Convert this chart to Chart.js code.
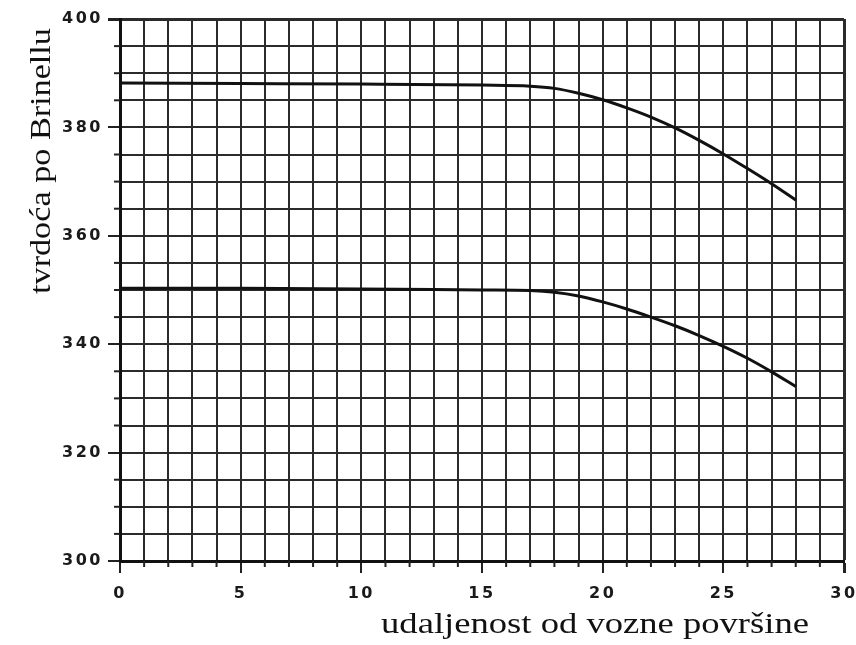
<!DOCTYPE html>
<html>
<head>
<meta charset="utf-8">
<script src="https://cdn.jsdelivr.net/npm/chart.js@4.4.1/dist/chart.umd.min.js"></script>
<style>
  html, body { margin: 0; padding: 0; background: #fff; }
  #wrap { width: 856px; height: 645px; position: relative; }
</style>
</head>
<body>
<div id="wrap"><canvas id="c" width="856" height="645"></canvas></div>
<script>
// distance from the running surface
const distance = [0, 5, 10, 15, 17, 18, 19, 20, 21, 22, 23, 24, 25, 26, 27, 28];
// upper curve (Brinell hardness)
const upperHardness = [388.2, 388.1, 388.0, 387.8, 387.6, 387.2, 386.3, 385.1, 383.6, 381.9, 379.9, 377.6, 375.1, 372.4, 369.6, 366.6];
// lower curve (Brinell hardness)
const lowerHardness = [350.3, 350.3, 350.2, 350.0, 349.9, 349.6, 348.9, 347.8, 346.5, 345.0, 343.4, 341.6, 339.6, 337.4, 334.9, 332.2];

const xTickLabels = [0, 5, 10, 15, 20, 25, 30];
const yTickLabels = [300, 320, 340, 360, 380, 400];

const xTitle = 'udaljenost od vozne površine';
const yTitle = 'tvrdoća po Brinellu';

function toPoints(xs, ys) { return xs.map((x, i) => ({ x: x, y: ys[i] })); }

const decor = {
  id: 'decor',
  beforeDraw(chart) { chart.ctx.letterSpacing = '2.5px'; },
  afterDatasetsDraw(chart) { chart.ctx.letterSpacing = '0px'; },
  afterDraw(chart) {
    const ctx = chart.ctx;
    const xs = chart.scales.x, ys = chart.scales.y;
    const area = chart.chartArea;
    ctx.save();
    ctx.letterSpacing = '0px';
    ctx.strokeStyle = '#222';
    ctx.lineWidth = 2;
    // minor ticks outside the plot
    for (let v = 0; v <= 30; v++) {
      if (xTickLabels.includes(v)) continue;
      const px = xs.getPixelForValue(v);
      ctx.beginPath(); ctx.moveTo(px, area.bottom); ctx.lineTo(px, area.bottom + 6); ctx.stroke();
    }
    for (let v = 300; v <= 400; v += 5) {
      if (yTickLabels.includes(v)) continue;
      const py = ys.getPixelForValue(v);
      ctx.beginPath(); ctx.moveTo(area.left, py); ctx.lineTo(area.left - 6, py); ctx.stroke();
    }
    // axis titles
    ctx.fillStyle = '#111';
    ctx.font = '30px "Liberation Serif"';
    ctx.textAlign = 'center';
    ctx.textBaseline = 'alphabetic';
    ctx.save();
    ctx.translate(595, 633);
    ctx.scale(1.22, 1);
    ctx.fillText(xTitle, 0, 0);
    ctx.restore();
    ctx.save();
    ctx.translate(50, 161);
    ctx.rotate(-Math.PI / 2);
    ctx.scale(1.14, 1);
    ctx.fillText(yTitle, 0, 0);
    ctx.restore();
    ctx.restore();
  }
};

const tickFont = { family: '"DejaVu Sans", sans-serif', size: 16, weight: 'bold' };

new Chart(document.getElementById('c'), {
  type: 'line',
  data: {
    datasets: [
      {
        data: toPoints(distance, upperHardness),
        borderColor: '#111', borderWidth: 3, pointRadius: 0,
        cubicInterpolationMode: 'monotone', fill: false
      },
      {
        data: toPoints(distance, lowerHardness),
        borderColor: '#111', borderWidth: 3, pointRadius: 0,
        cubicInterpolationMode: 'monotone', fill: false
      }
    ]
  },
  options: {
    responsive: false,
    animation: false,
    devicePixelRatio: 1,
    layout: { padding: { left: 0, right: 12, top: 19, bottom: 0 } },
    plugins: { legend: { display: false }, tooltip: { enabled: false } },
    scales: {
      x: {
        type: 'linear', min: 0, max: 30,
        ticks: {
          stepSize: 1, autoSkip: false, maxRotation: 0, padding: 11,
          color: '#1a1a1a', font: tickFont,
          callback: v => xTickLabels.includes(v) ? String(v) : ''
        },
        grid: {
          color: '#2b2b2b',
          lineWidth: c => (c.tick && c.tick.value === 30) ? 3 : 2,
          tickLength: 12,
          tickColor: c => (c.tick && xTickLabels.includes(c.tick.value)) ? '#222' : 'rgba(0,0,0,0)'
        },
        border: { display: true, color: '#111', width: 3 },
        afterFit(s) { s.height = 84; s.paddingLeft = 0; s.paddingRight = 0; }
      },
      y: {
        type: 'linear', min: 300, max: 400,
        ticks: {
          stepSize: 5, autoSkip: false, padding: 5,
          color: '#1a1a1a', font: tickFont,
          callback: v => yTickLabels.includes(v) ? String(v) : ''
        },
        grid: {
          color: '#2b2b2b',
          lineWidth: c => (c.tick && c.tick.value === 400) ? 3 : 2,
          tickLength: 12,
          tickColor: c => (c.tick && yTickLabels.includes(c.tick.value)) ? '#222' : 'rgba(0,0,0,0)'
        },
        border: { display: true, color: '#111', width: 3 },
        afterFit(s) { s.width = 120; s.paddingTop = 0; s.paddingBottom = 0; }
      }
    }
  },
  plugins: [decor]
});
</script>
</body>
</html>
